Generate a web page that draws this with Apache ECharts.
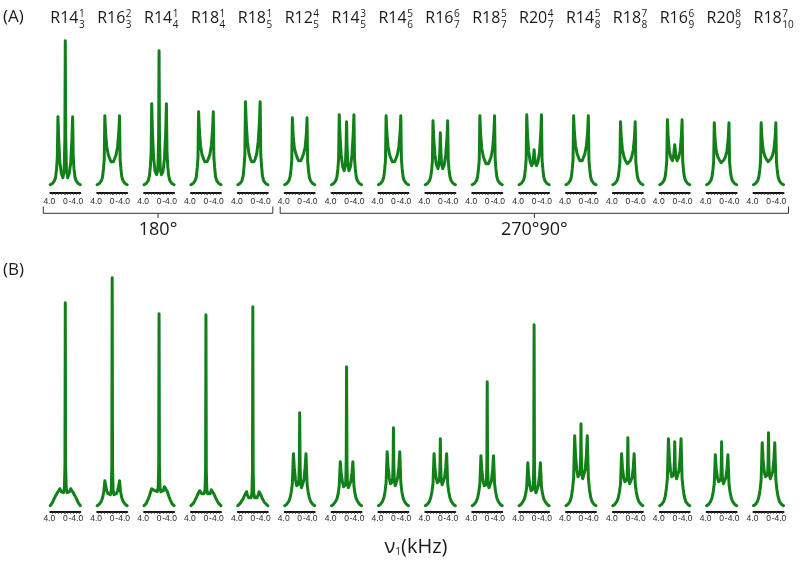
<!DOCTYPE html>
<html><head><meta charset="utf-8">
<script src="https://cdn.jsdelivr.net/npm/echarts@6/dist/echarts.min.js"></script>
<style>html,body{margin:0;padding:0;background:#fff}#c{width:800px;height:563px}</style>
</head><body><div id="c"></div><script>
// half-spectrum frequency grids (kHz, from +5 down to 0); spectra are mirrored about 0
const freqA = [5, 4.2, 3.6, 3.2, 2.9, 2.65, 2.45, 2.2, 1.8, 1.3, 0.8, 0.4, 0.15, 0];
const freqB = [5, 4.3, 3.7, 3.2, 2.8, 2.45, 2.1, 1.8, 1.4, 1.0, 0.6, 0.3, 0.12, 0];
// sequence names R{N}_{n}^{nu}
const seqMain = ['R14','R16','R14','R18','R18','R12','R14','R14','R16','R18','R20','R14','R18','R16','R20','R18'];
const seqSup  = ['1','2','1','1','1','4','3','5','6','5','4','5','7','6','8','7'];
const seqSub  = ['3','3','4','4','5','5','5','6','7','7','7','8','8','9','9','10'];
const groupNames = ['180°', '270°90°'];
const groupSizes = [5, 11];
const tickValues = [4, 0, -4];
const tickLabels = ['4.0', '0', '-4.0'];
// panel (A) intensities (a.u.) at freqA
const specA = [
  [0,1.5,4,8,16,28,68,45,22,11,7,14,45,144],
  [0,1.5,4,8,16,25,69,52,38,30,26,23,22,22],
  [0,1.5,4,9,18,32,81,52,26,13,10,15,45,134],
  [0,1.5,4,8,17,27,73,55,39,30,26,23,22,22],
  [0,1.5,4,9,19,30,83,62,43,31,26,23,22,22],
  [0,1.5,4,8,15,24,67,50,37,31,27,24,23,23],
  [0,1.5,4,8,16,26,70,50,30,18,14,20,40,63],
  [0,1.5,4,8,16,25,69,52,38,30,26,23,22,22],
  [0,1.5,4,8,15,23,64,46,30,20,16,21,35,52],
  [0,1.5,4,8,16,25,69,51,36,28,24,21,20,20],
  [0,1.5,4,8,16,25,70,50,33,23,19,22,29,35],
  [0,1.5,4,8,16,25,69,52,39,31,27,24,23,23],
  [0,1.5,4,8,15,23,63,47,35,28,24,22,21,21],
  [0,1.5,4,8,15,24,65,48,34,27,24,28,36,40],
  [0,1.5,4,8,15,23,62,46,34,28,25,23,22,22],
  [0,1.5,4,8,15,23,62,47,35,29,26,24,23,23]
];
// panel (B) intensities (a.u.) at freqB
const specB = [
  [0,3,7,10,12,14,16,17,14,12,13,18,40,203],
  [0,1.5,4,8,14,25,19,15,12,10,11,16,40,228],
  [0,2,6,10,14,17,18,19,15,16,14,18,40,192],
  [0,2,5,8,11,13,15,16,12,11,12,16,35,191],
  [0,2,4,7,10,12,14,11,8,7,8,13,35,199],
  [0,1.5,4,8,14,22,52,38,26,20,18,22,45,93],
  [0,1.5,4,7,12,20,44,33,24,19,18,21,45,139],
  [0,1.5,4,8,14,23,54,39,28,22,20,24,42,78],
  [0,1.5,4,8,14,22,52,38,28,23,21,25,40,67],
  [0,1.5,4,8,14,22,50,36,25,20,18,21,42,124],
  [0,1.5,4,7,12,19,43,30,20,15,13,17,40,181],
  [0,1.5,4,9,17,28,70,50,36,29,27,32,50,82],
  [0,1.5,4,8,14,22,52,38,28,24,22,26,42,68],
  [0,1.5,4,9,17,27,67,48,35,29,27,31,45,64],
  [0,1.5,4,8,14,22,51,37,28,24,22,26,40,64],
  [0,1.5,4,9,16,26,63,46,34,29,27,31,45,73]
];

// ---------- layout ----------
const GREEN = '#118019';
const c0 = 65.3, step = 46.88, halfW = 15;
const rows = [
  {freq: freqA, spec: specA, axisY: 192.7, ymin: -8, ymax: 160, labelMargin: 4.5},
  {freq: freqB, spec: specB, axisY: 511.7, ymin: -6, ymax: 240, labelMargin: 2}
];
function mirror(freq, h) {
  const pts = freq.map((f, i) => [f, h[i]]);
  for (let i = freq.length - 2; i >= 0; i--) pts.push([-freq[i], h[i]]);
  return pts;
}
const LBL = {fontSize: 8.5, fontFamily: 'Liberation Sans', color: '#2a2a2a'};
const grid = [], xAxis = [], yAxis = [], series = [];
rows.forEach((r) => {
  r.spec.forEach((h, i) => {
    const idx = grid.length;
    const cx = c0 + i * step;
    const hgt = r.ymax - r.ymin;
    grid.push({left: cx - halfW, width: 2 * halfW, top: r.axisY - hgt, height: hgt, containLabel: false});
    xAxis.push({
      gridIndex: idx, type: 'value', min: -5, max: 5, inverse: true,
      axisLine: {show: true, onZero: false, lineStyle: {color: '#111', width: 2}},
      axisTick: {show: true, customValues: [-4.5,-3.5,-2.5,-1.5,-0.5,0,0.5,1.5,2.5,3.5,4.5], length: 2, lineStyle: {color: '#333', width: 1}},
      axisLabel: Object.assign({
        show: true, customValues: tickValues, margin: r.labelMargin,
        formatter: (v) => {
          const k = tickValues.indexOf(v);
          const t = tickLabels[k];
          return v > 0 ? '{p|' + t + '}' : (v < 0 ? '{n|' + t + '}' : t);
        },
        rich: {
          p: Object.assign({padding: [0, 8, 0, 0]}, LBL),
          n: Object.assign({padding: [0, 3, 0, 0]}, LBL)
        }
      }, LBL),
      splitLine: {show: false}
    });
    yAxis.push({gridIndex: idx, type: 'value', min: r.ymin, max: r.ymax, show: false});
    series.push({
      type: 'line', xAxisIndex: idx, yAxisIndex: idx, data: mirror(r.freq, h),
      showSymbol: false, symbol: 'none', silent: true,
      lineStyle: {color: GREEN, width: 3, join: 'round', cap: 'round'},
      animation: false
    });
  });
});

// ---------- text / brackets ----------
const graphic = [];
const ctx = document.createElement('canvas').getContext('2d');
const FONT = '"Open Sans", "Noto Sans", sans-serif';
function txt(x, y, text, size, align) {
  graphic.push({type: 'text', x: x, y: y, silent: true,
    style: {text: text, fontSize: size, fontFamily: FONT, fill: '#1a1a1a',
      align: align || 'center', textAlign: align || 'center', verticalAlign: 'middle', textVerticalAlign: 'middle'}});
}
txt(3, 17, '(A)', 17, 'left');
txt(3, 270, '(B)', 17, 'left');
seqMain.forEach((m, i) => {
  const cx = c0 + i * step;
  const x0 = cx - 15;
  ctx.font = '16px "Open Sans"';
  const w = ctx.measureText(m).width;
  txt(x0, 18.5, m, 16, 'left');
  txt(x0 + w + 0.5, 14.5, seqSup[i], 10, 'left');
  txt(x0 + w + 0.5, 25, seqSub[i], 10, 'left');
});
let start = 0;
groupSizes.forEach((n, g) => {
  const l = c0 + start * step - (g === 0 ? 22 : 19.5);
  const rr = c0 + (start + n - 1) * step + 20;
  const mid = (l + rr) / 2;
  graphic.push({type: 'polyline', silent: true, shape: {points: [[l, 206.5], [l, 213.3], [rr, 213.3], [rr, 206.5]]},
    style: {stroke: '#333', lineWidth: 1, fill: null}});
  graphic.push({type: 'polyline', silent: true, shape: {points: [[mid, 213.3], [mid, 218]]},
    style: {stroke: '#333', lineWidth: 1, fill: null}});
  txt(mid, 230, groupNames[g], 18, 'center');
  start += n;
});
graphic.push({type: 'text', x: 416, y: 545, silent: true, style: {
  text: '{a|ν}{s|1}{a|(kHz)}', align: 'center', textAlign: 'center', verticalAlign: 'middle', textVerticalAlign: 'middle',
  rich: {a: {fontSize: 20, fontFamily: FONT, fill: '#1a1a1a', color: '#1a1a1a', verticalAlign: 'bottom', lineHeight: 24},
         s: {fontSize: 10, fontFamily: FONT, fill: '#1a1a1a', color: '#1a1a1a', verticalAlign: 'bottom', lineHeight: 24}}}});

const chart = echarts.init(document.getElementById('c'), null, {renderer: 'canvas'});
chart.setOption({animation: false, backgroundColor: '#fff', grid, xAxis, yAxis, series, graphic});
</script></body></html>
